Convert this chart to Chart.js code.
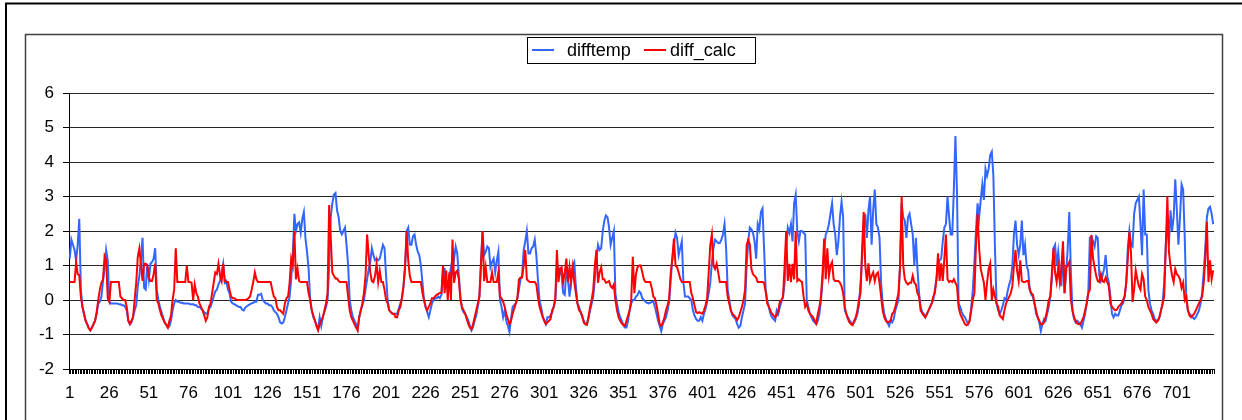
<!DOCTYPE html>
<html>
<head>
<meta charset="utf-8">
<script src="https://cdn.jsdelivr.net/npm/chart.js@4/dist/chart.umd.min.js"></script>
<style>
  html, body { margin: 0; padding: 0; background: #fff; }
  #wrap { width: 1242px; height: 420px; }
</style>
</head>
<body>
<div id="wrap"><canvas id="tempChart" width="1242" height="420"></canvas></div>
<script>
// hourly readings, one row per day (24 values)
const difftemp = [
    1.2, 1.75, 1.6, 1.45, 1.15, 1.6, 2.35, 0.3, -0.2, -0.4, -0.6, -0.7, -0.82, -0.88, -0.8, -0.7, -0.6, -0.4, -0.1, -0.05, 0.1, 0.55, 0.9, 1.45,
    1.15, -0.05, -0.1, -0.1, -0.1, -0.1, -0.1, -0.12, -0.12, -0.15, -0.15, -0.2, -0.3, -0.6, -0.7, -0.65, -0.5, -0.3, -0.15, 0.4, 0.7, 1.2, 1.8, 0.35,
    0.3, 1.05, 0.6, 1.05, 1.1, 1.2, 1.5, 0.3, 0, -0.2, -0.35, -0.5, -0.65, -0.72, -0.8, -0.75, -0.6, -0.3, -0.1, 0, -0.05, -0.05, -0.08, -0.08,
    -0.1, -0.1, -0.1, -0.1, -0.12, -0.12, -0.12, -0.15, -0.15, -0.2, -0.2, -0.25, -0.3, -0.35, -0.4, -0.38, -0.25, -0.2, -0.05, 0.1, 0.25, 0.3, 0.45, 0.55,
    0.8, 1.05, 0.5, 0.55, 0.3, 0.2, -0.05, -0.1, -0.12, -0.15, -0.18, -0.2, -0.2, -0.28, -0.3, -0.22, -0.18, -0.15, -0.12, -0.1, -0.08, -0.05, -0.05, 0.15,
    0.15, 0.18, 0, -0.05, -0.1, -0.1, -0.15, -0.15, -0.2, -0.3, -0.35, -0.4, -0.5, -0.65, -0.68, -0.65, -0.5, -0.3, -0.1, 0.1, 0.6, 1.3, 2.5, 2.0,
    2.2, 2.25, 1.95, 2.35, 2.55, 1.8, 1.4, 0.9, 0, -0.3, -0.5, -0.6, -0.75, -0.85, -0.5, -0.75, -0.5, -0.35, -0.2, 0, 1.0, 2.4, 2.8, 3.05,
    3.1, 2.6, 2.4, 2.0, 1.9, 2.0, 2.1, 1.6, 1.0, 0, -0.3, -0.5, -0.6, -0.7, -0.85, -0.5, -0.3, -0.15, 0, 0.3, 0.6, 0.9, 1.1, 1.5,
    1.3, 1.15, 1.2, 1.15, 1.2, 1.4, 1.6, 1.5, 0.7, 0, -0.3, -0.35, -0.4, -0.4, -0.4, -0.4, -0.25, -0.1, 0.05, 0.4, 0.9, 2.0, 2.1, 1.6,
    1.6, 1.85, 1.9, 1.6, 1.4, 1.3, 1.0, 0.5, 0, -0.2, -0.35, -0.5, -0.3, -0.1, 0, 0.05, 0.05, 0.1, 0.05, 0.15, 0.9, 0.9, 0.4, 0.5,
    0.65, 0.95, 0.8, 1.2, 1.55, 1.35, 0.7, 0.1, -0.25, -0.35, -0.4, -0.5, -0.6, -0.75, -0.88, -0.78, -0.6, -0.45, -0.2, 0.1, 1.1, 2.0, 1.3, 1.4,
    1.55, 1.5, 0.95, 1.1, 1.2, 0.8, 1.15, 1.4, 0, -0.2, -0.5, -0.3, -0.6, -0.75, -0.93, -0.55, -0.2, -0.15, -0.1, 0.05, 0.3, 0.6, 0.7, 1.45,
    1.7, 2.0, 1.35, 1.35, 1.5, 1.55, 1.75, 1.3, 0.6, 0, -0.2, -0.45, -0.6, -0.7, -0.5, -0.5, -0.45, -0.35, -0.2, 0, 0.8, 0.95, 0.85, 0.7,
    0.2, 0.15, 0.9, 0.6, 0.1, 0.6, 1.0, 1.1, 0.4, -0.1, -0.2, -0.35, -0.5, -0.6, -0.7, -0.7, -0.5, -0.3, -0.1, 0.1, 0.6, 1.2, 1.6, 1.45,
    1.5, 2.0, 2.3, 2.45, 2.4, 2.1, 1.6, 1.8, 2.0, 0.2, -0.1, -0.35, -0.5, -0.6, -0.72, -0.8, -0.8, -0.6, -0.3, -0.1, 0, 0, 0.1, 0.15,
    0.25, 0.2, 0.05, 0, -0.05, -0.08, -0.1, -0.08, -0.05, -0.05, -0.2, -0.4, -0.6, -0.75, -0.9, -0.7, -0.6, -0.5, -0.3, -0.05, 0.6, 1.2, 1.6, 1.95,
    1.8, 1.3, 1.5, 1.7, 0.5, 0.1, 0.1, 0.1, 0.05, 0, -0.3, -0.45, -0.55, -0.6, -0.6, -0.5, -0.6, -0.4, -0.25, -0.05, 0.2, 0.5, 1.1, 1.5,
    1.75, 1.7, 1.65, 1.65, 1.75, 1.9, 2.2, 1.5, 0.3, 0, -0.3, -0.45, -0.5, -0.55, -0.7, -0.8, -0.75, -0.5, -0.3, -0.1, 1.0, 1.7, 2.1, 2.05,
    1.95, 1.7, 1.2, 2.2, 2.05, 2.55, 2.65, 1.5, 0.3, 0, -0.2, -0.4, -0.5, -0.55, -0.6, -0.3, -0.4, -0.2, -0.05, 0.1, 0.5, 1.5, 2.1, 1.95,
    2.2, 1.7, 2.8, 3.05, 2.0, 1.7, 2.0, 2.0, 1.95, 1.9, 0, -0.2, -0.4, -0.5, -0.6, -0.65, -0.7, -0.6, -0.4, 0, 0.6, 1.4, 1.9, 2.0,
    2.2, 2.5, 2.8, 2.2, 1.9, 1.3, 1.7, 2.4, 2.85, 2.4, -0.3, -0.4, -0.5, -0.58, -0.65, -0.7, -0.65, -0.55, -0.4, -0.15, 0.5, 1.2, 2.0, 2.5,
    1.8, 2.6, 3.0, 1.6, 2.6, 3.2, 2.2, 2.1, 1.8, 0.5, -0.1, -0.4, -0.55, -0.65, -0.75, -0.6, -0.65, -0.55, -0.3, -0.15, 0, 1.0, 2.8, 2.4,
    2.3, 1.8, 2.4, 2.5, 2.2, 1.9, 1.0, 1.8, 0.9, 0.2, -0.2, -0.35, -0.4, -0.5, -0.4, -0.3, -0.2, -0.1, 0, 0.3, 0.6, 1.0, 1.15, 1.2,
    1.7, 2.1, 2.2, 3.0, 2.4, 1.9, 1.9, 3.2, 4.75, 3.1, -0.1, -0.2, -0.35, -0.45, -0.5, -0.6, -0.7, -0.6, -0.2, 0.3, 1.1, 2.0, 2.8, 2.4,
    2.9, 3.35, 2.9, 3.8, 3.6, 3.8, 4.2, 4.3, 3.6, 1.5, -0.1, -0.3, -0.4, -0.3, -0.15, 0.05, 0, 0.25, 0.45, 0.6, 1.0, 1.9, 2.3, 1.6,
    1.3, 1.6, 2.3, 1.3, 1.6, 1.0, 0.85, 0.3, 0.15, 0.1, -0.1, -0.4, -0.5, -0.65, -0.9, -0.7, -0.55, -0.6, -0.4, -0.2, 0.1, 0.6, 1.5, 1.6,
    1.0, 1.4, 0.9, 0.4, 1.5, 0.2, 0.8, 1.5, 2.55, 0.8, -0.3, -0.55, -0.65, -0.6, -0.65, -0.7, -0.8, -0.6, -0.4, -0.1, 0.2, 1.8, 1.85, 1.7,
    1.55, 1.85, 1.8, 0.7, 0.55, 0.7, 0.9, 1.3, 0.7, 0.5, 0.1, -0.4, -0.5, -0.4, -0.45, -0.45, -0.3, -0.15, -0.1, 0.1, 0.5, 1.5, 2.0, 1.6,
    1.55, 2.5, 2.8, 2.9, 3.0, 2.2, 1.3, 3.2, 1.9, 1.9, 0.3, -0.1, -0.3, -0.4, -0.55, -0.6, -0.6, -0.5, -0.3, -0.1, 0.5, 1.6, 2.3, 1.6,
    2.6, 2.0, 2.4, 3.5, 2.6, 1.6, 2.4, 3.35, 3.2, 1.8, 0, -0.3, -0.4, -0.45, -0.5, -0.55, -0.5, -0.4, -0.3, -0.1, 0.2, 0.8, 1.5, 2.4,
    2.65, 2.7, 2.5, 2.2
];

const diffCalc = [
    0.52, 0.52, 0.52, 0.52, 1.1, 0.75, 0.72, 0.1, -0.2, -0.4, -0.6, -0.7, -0.82, -0.88, -0.8, -0.7, -0.6, -0.35, 0, 0.3, 0.5, 0.6, 1.27, 1.15,
    0.05, -0.05, 0.52, 0.52, 0.52, 0.52, 0.52, 0.52, 0.1, 0.05, 0, 0, -0.2, -0.6, -0.7, -0.6, -0.5, 0, 0.5, 1.25, 1.5, 1.05, 0.55, 1.05,
    1.05, 1.0, 0.65, 0.55, 0.55, 0.75, 1.05, 0, -0.1, -0.3, -0.45, -0.55, -0.65, -0.72, -0.8, -0.6, -0.45, 0, 0.3, 1.5, 0.52, 0.52, 0.52, 0.52,
    0.52, 0.52, 1.0, 0.52, 0.52, 0.5, 0, 0.45, 0.2, 0.1, -0.1, -0.2, -0.3, -0.45, -0.6, -0.5, -0.2, -0.1, 0.2, 0.5, 0.8, 0.75, 1.05, 0.7,
    0.55, 1.05, 0.55, 0.52, 0.52, 0.3, 0.1, 0.05, 0.05, 0.02, 0, 0, 0, 0, 0, 0, 0.02, 0.05, 0.1, 0.3, 0.52, 0.8, 0.6, 0.52,
    0.52, 0.52, 0.52, 0.52, 0.52, 0.52, 0.52, 0.52, 0.3, 0.1, 0.05, -0.2, -0.3, -0.3, -0.35, -0.4, -0.1, 0.05, 0.1, 0.5, 1.2, 1.0, 2.0, 0.6,
    0.9, 0.55, 0.52, 0.52, 0.52, 0.52, 0.52, 0.2, 0, -0.3, -0.45, -0.6, -0.75, -0.88, -0.7, -0.6, -0.5, -0.3, -0.1, 0.2, 2.75, 1.8, 0.8, 0.7,
    0.62, 0.62, 0.55, 0.52, 0.52, 0.52, 0.52, 0.52, 0.1, -0.3, -0.5, -0.6, -0.7, -0.8, -0.88, -0.5, -0.3, -0.1, 0.2, 0.7, 1.9, 1.3, 0.8, 0.55,
    0.52, 0.7, 1.05, 0.52, 0.85, 0.52, 0.52, 0.3, 0, -0.1, -0.3, -0.35, -0.4, -0.4, -0.5, -0.5, -0.3, -0.2, 0.05, 0.4, 1.0, 2.0, 1.15, 0.7,
    0.52, 0.52, 0.52, 0.52, 0.52, 0.52, 0.52, 0.2, 0, -0.2, -0.3, -0.2, -0.1, 0.05, 0.05, 0.1, 0.15, 0.18, 0.2, 0.2, 1.0, 0.2, 0.85, 0,
    0.8, 0, 1.75, 0.5, 0.8, 0.85, 0.6, 0, -0.2, -0.3, -0.4, -0.55, -0.7, -0.8, -0.85, -0.7, -0.5, -0.3, -0.1, 0.1, 1.0, 2.0, 0.55, 0.95,
    0.52, 0.52, 0.52, 0.8, 0.52, 0.52, 0.52, 0.8, 0.1, 0.05, -0.05, -0.2, -0.4, -0.55, -0.7, -0.6, -0.4, -0.25, -0.1, 0.05, 0.6, 0.65, 0.65, 1.0,
    1.45, 0.6, 0.55, 0.52, 0.52, 0.52, 0.52, 0.45, 0.1, -0.2, -0.35, -0.5, -0.6, -0.7, -0.65, -0.6, -0.55, -0.3, -0.2, 0.05, 1.45, 0.52, 0.9, 0.95,
    0.52, 0.8, 1.2, 0.52, 0.95, 0.52, 0.95, 0.52, 0.2, -0.1, -0.3, -0.35, -0.45, -0.65, -0.7, -0.72, -0.5, -0.2, 0, 0.3, 1.0, 1.45, 0.5, 0.8,
    0.95, 0.6, 0.6, 0.5, 0.52, 0.55, 0.4, 0.35, 0.45, 0, -0.3, -0.5, -0.6, -0.68, -0.72, -0.75, -0.6, -0.45, -0.3, 0, 1.25, 0.2, 0.75, 0.95,
    1.0, 1.0, 0.8, 0.6, 0.52, 0.52, 0.52, 0.52, 0.35, 0.1, 0.05, -0.15, -0.4, -0.7, -0.75, -0.65, -0.5, -0.3, -0.15, 0.05, 0.8, 1.2, 1.78, 1.0,
    0.95, 0.8, 0.62, 0.52, 0.52, 0.52, 0.52, 0.52, 0.52, 0.2, 0.05, -0.15, -0.35, -0.38, -0.35, -0.38, -0.4, -0.3, -0.15, 0.05, 0.8, 1.6, 1.9, 1.0,
    0.9, 1.05, 0.8, 0.52, 0.52, 0.52, 0.52, 0.52, 0.1, -0.1, -0.3, -0.4, -0.45, -0.5, -0.58, -0.5, -0.35, -0.2, 0, 0.3, 1.6, 1.75, 1.6, 0.9,
    0.75, 0.7, 0.65, 0.52, 0.52, 0.52, 0.52, 0.5, 0.25, -0.1, -0.2, -0.3, -0.4, -0.45, -0.5, -0.45, -0.3, -0.05, 0, 0.1, 1.0, 2.0, 0.55, 1.05,
    0.52, 1.05, 0.6, 2.0, 0.55, 0.6, 0.55, 0.52, 0.1, -0.2, -0.1, -0.3, -0.4, -0.45, -0.5, -0.6, -0.68, -0.4, -0.2, 0.1, 0.8, 1.78, 0.6, 1.5,
    0.7, 1.0, 1.1, 0.6, 0.55, 0.55, 0.55, 0.5, 0.4, 0.2, -0.2, -0.4, -0.55, -0.65, -0.7, -0.73, -0.6, -0.5, -0.3, 0, 0.2, 1.5, 2.55, 1.0,
    0.55, 1.06, 0.55, 0.7, 0.8, 0.55, 0.75, 0.8, 0.5, 0.1, -0.3, -0.5, -0.6, -0.65, -0.63, -0.6, -0.4, -0.35, -0.2, 0, 0.2, 1.0, 3.0, 1.0,
    0.6, 0.5, 0.45, 0.5, 0.5, 0.7, 0.5, 0.45, 0.2, 0.1, -0.3, -0.38, -0.45, -0.5, -0.4, -0.3, -0.2, -0.1, 0.1, 0.2, 0.6, 1.35, 0.55, 1.06,
    0.55, 1.2, 1.9, 0.6, 0.52, 0.55, 0.52, 0.6, 0.5, 0.4, -0.2, -0.4, -0.5, -0.6, -0.7, -0.73, -0.7, -0.6, -0.3, 0, 0.2, 1.6, 2.5, 1.5,
    0.9, 0.7, 0.5, 0, 0.5, 0.9, 1.06, 0, 0.3, 0.1, -0.1, -0.2, -0.45, -0.5, -0.55, -0.3, -0.1, 0, 0.1, 0.2, 0.4, 1.0, 1.45, 0.85,
    0.55, 1.15, 0.55, 0.52, 0.52, 0.55, 0.55, 0.3, 0.2, 0.15, -0.1, -0.3, -0.5, -0.6, -0.7, -0.7, -0.65, -0.5, -0.3, 0, 0.1, 0.8, 1.5, 0.8,
    0.52, 0.95, 0.52, 0.9, 1.7, 0.2, 0.95, 1.0, 1.1, 0, -0.3, -0.5, -0.6, -0.68, -0.7, -0.7, -0.6, -0.5, -0.3, -0.1, 0.2, 0.3, 1.88, 1.2,
    0.95, 0.7, 0.55, 0.52, 0.75, 0.55, 0.52, 0.65, 0.52, 0.4, -0.1, -0.2, -0.25, -0.3, -0.28, -0.2, -0.15, -0.1, 0, 0.1, 0.5, 1.2, 1.98, 1.4,
    -0.06, 0.3, 0.86, 0.6, 0.4, 0.3, 0.75, 0.6, 0.1, 0, -0.2, -0.3, -0.4, -0.55, -0.6, -0.65, -0.6, -0.5, -0.3, -0.1, 0.1, 1.5, 3.0, 1.4,
    1.0, 0.7, 0.52, 0.9, 0.75, 0.7, 0.6, 0.35, 0.5, 0, 0.1, -0.3, -0.45, -0.5, -0.45, -0.4, -0.3, -0.2, -0.1, 0, 0.1, 0.5, 1.2, 2.27,
    0.52, 1.15, 0.6, 0.86
];

// category axis: one label per reading, numbered from 1
const hours = difftemp.map((_, i) => String(i + 1));
const labelEvery = 25;
const yMin = -2, yMax = 6;

const seriesNames = ['difftemp', 'diff_calc'];
const seriesColors = ['#3366ff', '#ff0000'];
const fontFamily = 'Liberation Sans, Arial, sans-serif';

// frames and legend box drawn straight onto the canvas
const framePlugin = {
    id: 'frames',
    afterDraw(chart) {
        const c = chart.ctx;
        c.save();
        c.strokeStyle = '#000';
        c.lineWidth = 2;
        c.strokeRect(6, 3.5, 1300, 500);
        c.strokeStyle = '#404040';
        c.lineWidth = 1.5;
        c.strokeRect(25.5, 34.5, 1197, 500);

        // legend
        c.lineWidth = 1;
        c.strokeStyle = '#000';
        c.strokeRect(527.5, 37.5, 228, 26);
        c.lineWidth = 2;
        c.font = '18px ' + fontFamily;
        c.fillStyle = '#000';
        c.textBaseline = 'middle';
        const items = [[532, 567], [644, 670]];
        items.forEach(([lx, tx], k) => {
            c.strokeStyle = seriesColors[k];
            c.beginPath();
            c.moveTo(lx, 50);
            c.lineTo(lx + 22, 50);
            c.stroke();
            c.fillText(seriesNames[k], tx, 51);
        });
        c.restore();
    }
};

const ctx = document.getElementById('tempChart');

new Chart(ctx, {
    type: 'line',
    data: {
        labels: hours,
        datasets: [
            {
                label: seriesNames[0],
                data: difftemp,
                borderColor: seriesColors[0],
                borderWidth: 2,
                pointRadius: 0,
                tension: 0,
                order: 1
            },
            {
                label: seriesNames[1],
                data: diffCalc,
                borderColor: seriesColors[1],
                borderWidth: 2,
                pointRadius: 0,
                tension: 0,
                order: 0
            }
        ]
    },
    options: {
        responsive: false,
        animation: false,
        devicePixelRatio: 1,
        layout: {
            padding: { left: 0, top: 93, right: 28, bottom: 0 }
        },
        plugins: {
            legend: { display: false },
            tooltip: { enabled: false }
        },
        scales: {
            x: {
                offset: true,
                grid: {
                    offset: true,
                    drawOnChartArea: false,
                    drawTicks: true,
                    tickLength: 5,
                    color: '#000',
                    lineWidth: 1
                },
                border: { color: '#000', width: 1 },
                ticks: {
                    autoSkip: false,
                    maxRotation: 0,
                    minRotation: 0,
                    padding: 9,
                    color: '#000',
                    font: { family: fontFamily, size: 17 },
                    callback: (v, i) => (i % labelEvery === 0 ? hours[i] : '')
                },
                afterFit(scale) { scale.height = 51; }
            },
            y: {
                min: yMin,
                max: yMax,
                grid: {
                    color: 'rgba(0,0,0,0.85)',
                    lineWidth: 1,
                    tickLength: 6,
                    tickColor: '#000'
                },
                border: { color: '#000', width: 1 },
                ticks: {
                    stepSize: 1,
                    padding: 9,
                    color: '#000',
                    font: { family: fontFamily, size: 17 }
                },
                afterFit(scale) { scale.width = 69; }
            }
        }
    },
    plugins: [framePlugin]
});
</script>
</body>
</html>
